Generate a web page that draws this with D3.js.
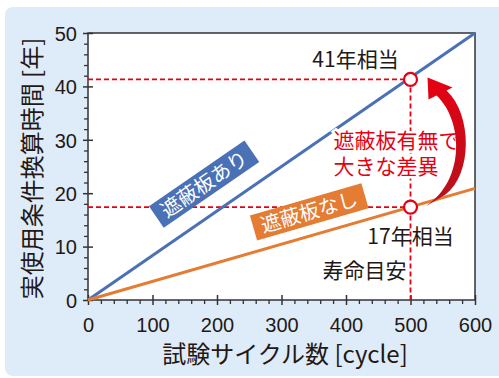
<!DOCTYPE html>
<html>
<head>
<meta charset="utf-8">
<script src="https://d3js.org/d3.v7.min.js"></script>
<style>
  body { margin: 0; background: #fff; }
  svg { display: block; }
  .num { font-family: "Liberation Sans", "DejaVu Sans", sans-serif; font-size: 20px; fill: #231815; }
  .jp { font-family: "Noto Sans CJK JP", "Noto Sans", sans-serif; fill: #231815; }
</style>
</head>
<body>
<svg id="chart" width="499" height="378"></svg>
<script>
// data
const cycles = [0, 600];
const withShield = [0, 50];       // 遮蔽板あり
const withoutShield = [0, 20.9];  // 遮蔽板なし
const markerCycle = 500;
const markerYears = [41.3, 17.4];
const markerLabels = ["41年相当", "17年相当"];
const xTicks = [0, 100, 200, 300, 400, 500, 600];
const yTicks = [0, 10, 20, 30, 40, 50];

const svg = d3.select("#chart");
const margin = { top: 33, right: 24, bottom: 78, left: 88 };
const width = +svg.attr("width") - margin.left - margin.right;
const height = +svg.attr("height") - margin.top - margin.bottom;

// light blue panel
svg.append("rect")
    .attr("x", 5).attr("y", 7)
    .attr("width", 520).attr("height", 369)
    .attr("rx", 8)
    .attr("fill", "#deebf8");

const g = svg.append("g").attr("transform", `translate(${margin.left},${margin.top})`);

const x = d3.scaleLinear().domain([0, 600]).range([0, width]);
const y = d3.scaleLinear().domain([0, 50]).range([height, 0]);

g.append("rect")
    .attr("width", width).attr("height", height)
    .attr("fill", "#fff");

// minor ticks
g.append("g")
    .attr("transform", `translate(0,${height})`)
    .call(d3.axisBottom(x).tickValues(d3.range(0, 601, 20).filter(v => v % 100)).tickSize(4).tickFormat(""))
    .call(a => a.select(".domain").remove())
    .selectAll("line").attr("stroke", "#333").attr("stroke-width", 1.3);
g.append("g")
    .call(d3.axisLeft(y).tickValues(d3.range(0, 51, 2).filter(v => v % 10)).tickSize(4).tickFormat(""))
    .call(a => a.select(".domain").remove())
    .selectAll("line").attr("stroke", "#333").attr("stroke-width", 1.3);

// major ticks crossing the axis
const xAxis = g.append("g")
    .attr("transform", `translate(0,${height})`)
    .call(d3.axisBottom(x).tickValues(xTicks).tickSize(5).tickPadding(8));
xAxis.select(".domain").remove();
xAxis.selectAll("line").attr("y1", -5).attr("stroke", "#333").attr("stroke-width", 1.5);
xAxis.selectAll("text").attr("class", "num").attr("dy", "0.95em");

const yAxis = g.append("g")
    .call(d3.axisLeft(y).tickValues(yTicks).tickSize(5).tickPadding(6));
yAxis.select(".domain").remove();
yAxis.selectAll("line").attr("x1", 5).attr("stroke", "#333").attr("stroke-width", 1.5);
yAxis.selectAll("text").attr("class", "num").attr("dy", "0.36em");

// frame
g.append("rect")
    .attr("width", width).attr("height", height)
    .attr("fill", "none").attr("stroke", "#333").attr("stroke-width", 1.5);

// dashed guides
const red = "#e60012";
markerYears.forEach(v => {
    g.append("line")
        .attr("x1", 0).attr("x2", x(markerCycle))
        .attr("y1", y(v)).attr("y2", y(v))
        .attr("stroke", red).attr("stroke-width", 1.8).attr("stroke-dasharray", "5,3");
});
g.append("line")
    .attr("x1", x(markerCycle)).attr("x2", x(markerCycle))
    .attr("y1", y(d3.max(markerYears))).attr("y2", height)
    .attr("stroke", red).attr("stroke-width", 1.8).attr("stroke-dasharray", "5,3");

// series lines
const line = d3.line().x(d => x(d[0])).y(d => y(d[1]));
const series = [
    { name: "遮蔽板あり", values: withShield, color: "#4a70b5", at: [180, 21.7] },
    { name: "遮蔽板なし", values: withoutShield, color: "#e47c33", at: [343, 16.5] }
];
series.forEach(s => {
    g.append("path")
        .datum(cycles.map((c, i) => [c, s.values[i]]))
        .attr("d", line)
        .attr("fill", "none").attr("stroke", s.color).attr("stroke-width", 3);
});

// rotated label boxes
series.forEach(s => {
    const ang = Math.atan2(y(s.values[1]) - y(s.values[0]), x(cycles[1]) - x(cycles[0])) * 180 / Math.PI;
    const lab = g.append("g")
        .attr("transform", `translate(${x(s.at[0])},${y(s.at[1])}) rotate(${ang})`);
    const txt = lab.append("text")
        .attr("class", "jp")
        .attr("text-anchor", "middle").attr("dy", "0.36em")
        .attr("font-size", 20)
        .style("fill", "#fff")
        .text(s.name);
    const w = txt.node().getComputedTextLength() + 16;
    lab.insert("rect", "text")
        .attr("x", -w / 2).attr("y", -13)
        .attr("width", w).attr("height", 26)
        .attr("fill", s.color);
});

// red note with white knockout behind it
[["遮蔽板有無で", 69], ["大きな差異", 95]].forEach(([t, dy]) => {
    g.append("text").attr("class", "jp").attr("font-size", 21)
        .style("fill", red)
        .attr("stroke", "#fff").attr("stroke-width", 5).attr("paint-order", "stroke")
        .attr("x", x(markerCycle) - 77).attr("y", y(markerYears[0]) + dy)
        .text(t);
});

// curved arrow (relative to the upper marker)
const ax = x(markerCycle), ay = y(markerYears[0]);
const grad = svg.append("defs").append("linearGradient")
    .attr("id", "arrowGrad").attr("x1", 0).attr("y1", 0).attr("x2", 0).attr("y2", 1);
grad.append("stop").attr("offset", "0%").attr("stop-color", "#e60012");
grad.append("stop").attr("offset", "100%").attr("stop-color", "#b3141e");
const p = (dx, dy) => `${ax + dx},${ay + dy}`;
g.append("path")
    .attr("d", `M${p(17, -2)} L${p(18, 20)} L${p(26, 16)} C${p(52, 40)} ${p(56, 100)} ${p(15, 127)}
                L${p(35, 115)} C${p(62, 95)} ${p(62, 35)} ${p(36, 11)} L${p(42, 8)} Z`)
    .attr("fill", "url(#arrowGrad)");

// markers
g.selectAll("circle.mk").data(markerYears)
    .join("circle").attr("class", "mk")
    .attr("cx", x(markerCycle)).attr("cy", d => y(d))
    .attr("r", 6.5)
    .attr("fill", "#fff").attr("stroke", red).attr("stroke-width", 2.2);

// annotation texts
g.append("text").attr("class", "jp").attr("font-size", 21)
    .attr("x", x(markerCycle) - 55).attr("y", y(markerYears[0]) - 12)
    .attr("text-anchor", "middle")
    .text(markerLabels[0]);
g.append("text").attr("class", "jp").attr("font-size", 21)
    .attr("x", x(markerCycle)).attr("y", y(markerYears[1]) + 37)
    .attr("text-anchor", "middle")
    .text(markerLabels[1]);
g.append("text").attr("class", "jp").attr("font-size", 21)
    .attr("x", x(markerCycle) - 46).attr("y", y(markerYears[1]) + 71)
    .attr("text-anchor", "middle")
    .text("寿命目安");

// axis titles
svg.append("text").attr("class", "jp").attr("font-size", 24)
    .attr("text-anchor", "middle")
    .attr("transform", `translate(41,${margin.top + height / 2 + 2}) rotate(-90)`)
    .text("実使用条件換算時間 [年]");
svg.append("text").attr("class", "jp").attr("font-size", 24)
    .attr("text-anchor", "middle")
    .attr("x", 285).attr("y", 363)
    .text("試験サイクル数 [cycle]");
</script>
</body>
</html>
